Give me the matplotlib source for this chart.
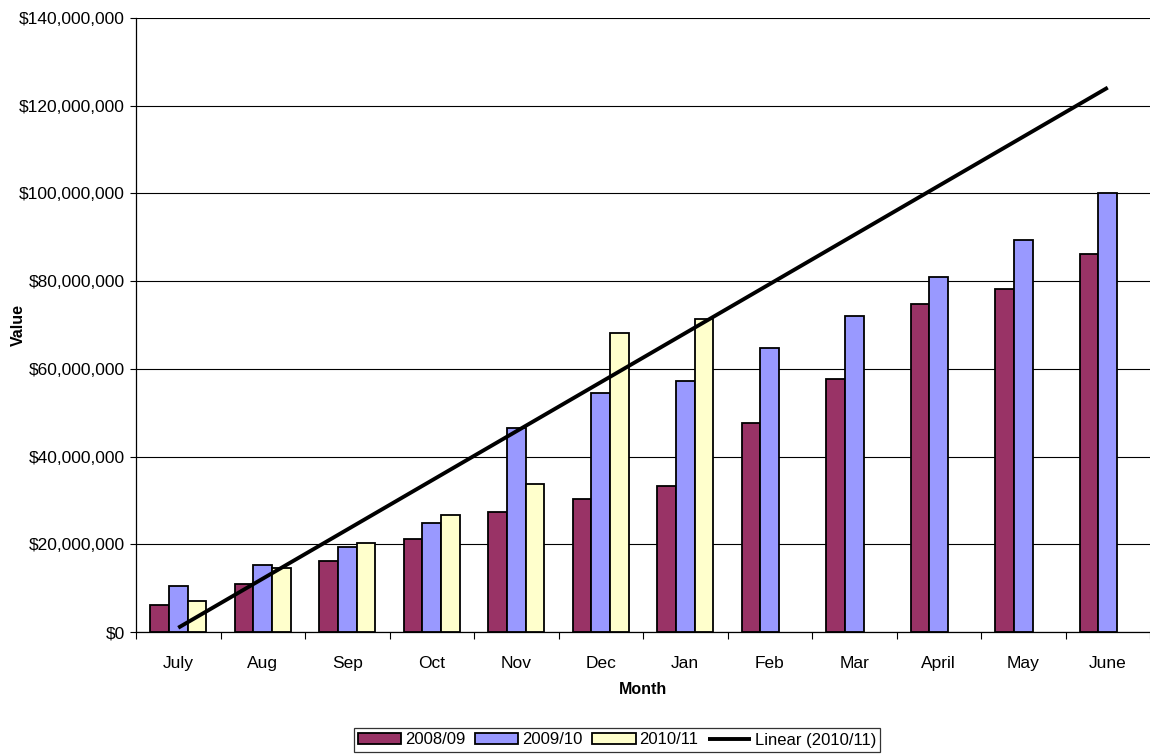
import numpy as np
import matplotlib
matplotlib.use("Agg")
import matplotlib.pyplot as plt
from matplotlib.ticker import FuncFormatter, MultipleLocator

plt.rcParams['font.family'] = ['Liberation Sans', 'DejaVu Sans']

months = ["July", "Aug", "Sep", "Oct", "Nov", "Dec", "Jan", "Feb", "Mar",
          "April", "May", "June"]
fy_2008_09 = [6.1e6, 10.9e6, 16.1e6, 21.3e6, 27.3e6, 30.4e6, 33.4e6, 47.7e6,
              57.7e6, 74.8e6, 78.3e6, 86.3e6]
fy_2009_10 = [10.6e6, 15.2e6, 19.4e6, 24.9e6, 46.5e6, 54.4e6, 57.3e6, 64.7e6,
              72.1e6, 80.9e6, 89.3e6, 100.0e6]
fy_2010_11 = [7.0e6, 14.6e6, 20.4e6, 26.7e6, 33.7e6, 68.1e6, 71.4e6]
series_names = ["2008/09", "2009/10", "2010/11"]
colors = ["#993366", "#9999FF", "#FFFFCC"]

fig = plt.figure(figsize=(11.5, 7.54), dpi=100)
ax = fig.add_axes([136 / 1150, 1 - 632 / 754, 1014 / 1150, 614 / 754])

x = np.arange(len(months))
w = 0.2222  # gap width 150%
bars = []
for i, (vals, name, c) in enumerate(zip([fy_2008_09, fy_2009_10, fy_2010_11],
                                         series_names, colors)):
    xi = x[:len(vals)] + (i - 1) * w
    b = ax.bar(xi, vals, width=w, color=c, edgecolor="black", linewidth=1.3,
               label=name, zorder=3)
    bars.append(b)

# Linear trend of 2010/11 extended across the full year
xt = np.arange(1, len(fy_2010_11) + 1)
slope, intercept = np.polyfit(xt, fy_2010_11, 1)
xfull = np.arange(1, len(months) + 1)
trend, = ax.plot(xfull - 1, slope * xfull + intercept, color="black", lw=2.8,
                 zorder=4, label="Linear (2010/11)", solid_capstyle="butt")

ax.set_xlim(-0.5, len(months) - 0.5)
ax.set_ylim(0, 140e6)
ax.yaxis.set_major_locator(MultipleLocator(20e6))
ax.yaxis.set_major_formatter(FuncFormatter(lambda v, p: "${:,.0f}".format(v)))
ax.set_xticks(x)
ax.set_xticklabels(months)
ax.set_xticks(np.arange(-0.5, len(months)), minor=True)
ax.tick_params(axis="x", which="major", length=0, labelsize=12.5, pad=17)
ax.tick_params(axis="x", which="minor", length=5, width=0.8, direction="out")
ax.tick_params(axis="y", length=4, width=0.8, direction="out", labelsize=12.5,
               pad=4)

ax.grid(axis="y", color="black", linewidth=0.8, zorder=0)
ax.set_axisbelow(True)
for s in ["top", "right"]:
    ax.spines[s].set_visible(False)
for s in ["left", "bottom"]:
    ax.spines[s].set_linewidth(0.9)
    ax.spines[s].set_color("black")

fig.text(18 / 1150, 1 - 325 / 754, "Value", rotation=90, ha="center",
         va="center", fontsize=11.5, fontweight="bold")
fig.text(643 / 1150, 1 - 690 / 754, "Month", ha="center", va="center",
         fontsize=11.5, fontweight="bold")

leg = fig.legend(handles=bars + [trend], loc="center",
                 bbox_to_anchor=(617 / 1150, 1 - 740 / 754), ncol=4,
                 frameon=True, fancybox=False, edgecolor="black",
                 fontsize=12, handlelength=2.6, handleheight=0.6,
                 handletextpad=0.2, columnspacing=0.6, borderpad=0.25,
                 borderaxespad=0)
leg.get_frame().set_linewidth(0.9)

fig.savefig("out.png", dpi=100)
